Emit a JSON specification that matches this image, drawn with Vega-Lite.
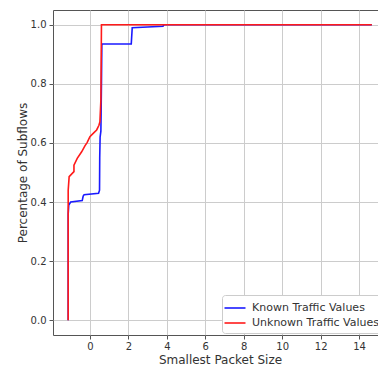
{
  "$schema": "https://vega.github.io/schema/vega-lite/v6.json",
  "autosize": {"type": "none"},
  "padding": {"left": 53, "top": 10, "right": 0, "bottom": 33},
  "width": 334,
  "height": 325,
  "background": "white",
  "config": {
    "font": "DejaVu Sans",
    "view": {"stroke": "#555555", "strokeWidth": 1}
  },
  "data": {
    "values": [
      {"series": "Known Traffic Values", "i": 0, "size": -1.13, "pct": 0.0},
      {"series": "Known Traffic Values", "i": 1, "size": -1.13, "pct": 0.36},
      {"series": "Known Traffic Values", "i": 2, "size": -1.1, "pct": 0.39},
      {"series": "Known Traffic Values", "i": 3, "size": -1.0, "pct": 0.4},
      {"series": "Known Traffic Values", "i": 4, "size": -0.4, "pct": 0.405},
      {"series": "Known Traffic Values", "i": 5, "size": -0.35, "pct": 0.42},
      {"series": "Known Traffic Values", "i": 6, "size": -0.3, "pct": 0.425},
      {"series": "Known Traffic Values", "i": 7, "size": 0.45, "pct": 0.43},
      {"series": "Known Traffic Values", "i": 8, "size": 0.5, "pct": 0.44},
      {"series": "Known Traffic Values", "i": 9, "size": 0.51, "pct": 0.55},
      {"series": "Known Traffic Values", "i": 10, "size": 0.53, "pct": 0.62},
      {"series": "Known Traffic Values", "i": 11, "size": 0.57, "pct": 0.64},
      {"series": "Known Traffic Values", "i": 12, "size": 0.6, "pct": 0.8},
      {"series": "Known Traffic Values", "i": 13, "size": 0.62, "pct": 0.935},
      {"series": "Known Traffic Values", "i": 14, "size": 2.15, "pct": 0.935},
      {"series": "Known Traffic Values", "i": 15, "size": 2.2, "pct": 0.99},
      {"series": "Known Traffic Values", "i": 16, "size": 3.8, "pct": 0.995},
      {"series": "Known Traffic Values", "i": 17, "size": 3.85, "pct": 1.0},
      {"series": "Known Traffic Values", "i": 18, "size": 14.66, "pct": 1.0},
      {"series": "Unknown Traffic Values", "i": 0, "size": -1.13, "pct": 0.0},
      {"series": "Unknown Traffic Values", "i": 1, "size": -1.13, "pct": 0.44},
      {"series": "Unknown Traffic Values", "i": 2, "size": -1.08, "pct": 0.486},
      {"series": "Unknown Traffic Values", "i": 3, "size": -0.83, "pct": 0.503},
      {"series": "Unknown Traffic Values", "i": 4, "size": -0.83, "pct": 0.525},
      {"series": "Unknown Traffic Values", "i": 5, "size": -0.66, "pct": 0.548},
      {"series": "Unknown Traffic Values", "i": 6, "size": -0.43, "pct": 0.57},
      {"series": "Unknown Traffic Values", "i": 7, "size": -0.26, "pct": 0.59},
      {"series": "Unknown Traffic Values", "i": 8, "size": -0.14, "pct": 0.602},
      {"series": "Unknown Traffic Values", "i": 9, "size": 0.0, "pct": 0.621},
      {"series": "Unknown Traffic Values", "i": 10, "size": 0.21, "pct": 0.635},
      {"series": "Unknown Traffic Values", "i": 11, "size": 0.35, "pct": 0.644},
      {"series": "Unknown Traffic Values", "i": 12, "size": 0.47, "pct": 0.66},
      {"series": "Unknown Traffic Values", "i": 13, "size": 0.52, "pct": 0.672},
      {"series": "Unknown Traffic Values", "i": 14, "size": 0.57, "pct": 0.745},
      {"series": "Unknown Traffic Values", "i": 15, "size": 0.6, "pct": 1.0},
      {"series": "Unknown Traffic Values", "i": 16, "size": 14.66, "pct": 1.0}
    ]
  },
  "mark": {"type": "line", "strokeWidth": 1.6, "clip": true},
  "encoding": {
    "x": {
      "field": "size",
      "type": "quantitative",
      "title": "Smallest Packet Size",
      "scale": {"domain": [-1.92, 15.45], "nice": false, "zero": false},
      "axis": {
        "values": [0, 2, 4, 6, 8, 10, 12, 14],
        "format": "d",
        "domain": false,
        "grid": true,
        "gridColor": "#cccccc",
        "gridWidth": 1,
        "tickColor": "#555555",
        "tickSize": 4,
        "labelFontSize": 10,
        "labelColor": "#333333",
        "labelPadding": 2,
        "titleFontSize": 12,
        "titleFontWeight": "normal",
        "titleColor": "#333333",
        "titlePadding": 3,
        "titleAnchor": "middle"
      }
    },
    "y": {
      "field": "pct",
      "type": "quantitative",
      "title": "Percentage of Subflows",
      "scale": {"domain": [-0.05, 1.05], "nice": false, "zero": false},
      "axis": {
        "values": [0, 0.2, 0.4, 0.6, 0.8, 1.0],
        "format": ".1f",
        "domain": false,
        "grid": true,
        "gridColor": "#cccccc",
        "gridWidth": 1,
        "tickColor": "#555555",
        "tickSize": 4,
        "labelFontSize": 10,
        "labelColor": "#333333",
        "labelPadding": 3,
        "titleFontSize": 12,
        "titleFontWeight": "normal",
        "titleColor": "#333333",
        "titlePadding": 1
      }
    },
    "color": {
      "field": "series",
      "type": "nominal",
      "title": null,
      "scale": {
        "domain": ["Known Traffic Values", "Unknown Traffic Values"],
        "range": ["#1a1aff", "#ff1a1a"]
      },
      "legend": {
        "orient": "none",
        "legendX": 169,
        "legendY": 285,
        "symbolType": "M-1.5,0H1.5",
        "symbolSize": 196,
        "symbolStrokeWidth": 1.6,
        "labelFontSize": 11,
        "labelColor": "#333333",
        "labelOffset": 9,
        "rowPadding": 2,
        "padding": 5,
        "fillColor": "white",
        "strokeColor": "#cccccc",
        "cornerRadius": 3
      }
    },
    "order": {"field": "i", "type": "quantitative"}
  }
}
